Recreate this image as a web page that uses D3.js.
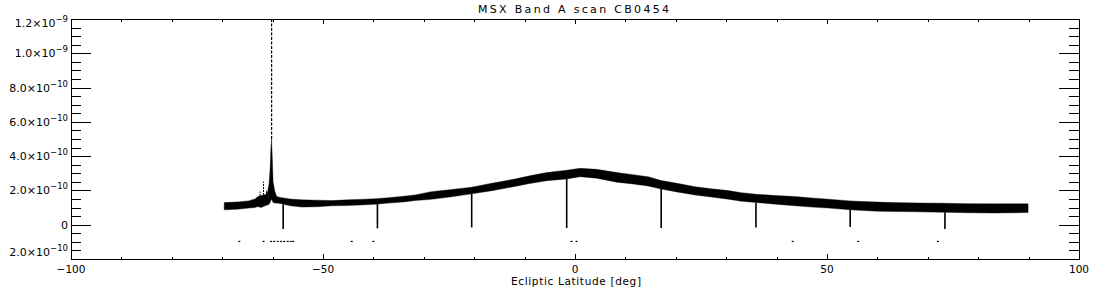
<!DOCTYPE html>
<html><head><meta charset="utf-8">
<script src="https://cdn.jsdelivr.net/npm/d3@7"></script>
<style>
html,body{margin:0;padding:0;background:#fff;}
svg{display:block;}
text{font-family:"DejaVu Sans",sans-serif;fill:#000;}
</style></head>
<body>
<svg id="chart" width="1100" height="300"></svg>
<script>
// ---- data (flux in units of 1e-10) ----
const UNIT = 1e-10;
const title = "MSX Band A scan CB0454";
const xTitle = "Ecliptic Latitude [deg]";
const xMajorTicks = [-100, -50, 0, 50, 100];
const xTickLabels = ["\u2212100", "\u221250", "0", "50", "100"];
const yMajorTicks = [-2, 0, 2, 4, 6, 8, 10, 12];
const yTickMantissa = ["2.0\u00d710", "0", "2.0\u00d710", "4.0\u00d710", "6.0\u00d710", "8.0\u00d710", "1.0\u00d710", "1.2\u00d710"];
const yTickExponent = ["\u221210", "", "\u221210", "\u221210", "\u221210", "\u221210", "\u22129", "\u22129"];

// band envelope
const bandLat = [-69.6,-67,-64.8,-63.5,-62.9,-62.3,-61.5,-61,-60.7,-60.5,-60.35,-60.2,-60.05,-59.9,-59.6,-59.2,-58.2,-56.5,-54.2,-51,-48.3,-45,-41.7,-39.5,-37,-34,-31.7,-28.5,-24.5,-20.5,-16.5,-12.2,-9,-5.6,-1.65,1.0,4.3,8.3,11.5,14.5,17.1,20.5,23.8,27,30.4,33,35.9,39.8,43.7,47,50.3,54.6,57.2,60,63.2,68,73.4,78,83,89.9];
const bandLo  = [0.87,0.90,0.97,1.00,1.06,1.00,1.10,1.15,1.20,1.30,1.40,1.50,1.40,1.30,1.26,1.26,1.22,1.10,1.03,1.05,1.10,1.12,1.16,1.20,1.26,1.33,1.41,1.48,1.63,1.80,1.98,2.22,2.40,2.57,2.67,2.80,2.71,2.48,2.38,2.26,2.08,1.90,1.74,1.62,1.49,1.37,1.30,1.20,1.10,1.03,0.97,0.87,0.83,0.79,0.77,0.75,0.72,0.70,0.68,0.71];
const bandHi  = [1.29,1.33,1.39,1.50,1.64,1.70,1.75,1.90,2.40,3.20,4.40,5.00,3.80,2.50,2.00,1.64,1.58,1.50,1.45,1.43,1.41,1.45,1.49,1.52,1.58,1.66,1.74,1.93,2.05,2.19,2.42,2.65,2.85,3.04,3.18,3.29,3.23,3.04,2.92,2.80,2.58,2.40,2.22,2.10,1.99,1.87,1.78,1.70,1.64,1.56,1.49,1.39,1.35,1.32,1.29,1.27,1.25,1.23,1.22,1.22];

// sparse top of the bright source
const spikeLat = -60.2, spikeBase = 5.0, spikeTop = 12.0;
// small spurs before the source
const spurLat = [-62.5, -61.8, -61.2];
const spurTop = [1.93, 2.51, 2.03];
// narrow dropouts
const dipLat = [-57.9, -39.2, -20.5, -1.65, 17.1, 35.9, 54.6, 73.4];
const dipMin = [-0.25, -0.21, -0.16, -0.19, -0.19, -0.16, -0.13, -0.25];
// isolated low points
const dotLat = [-66.6, -61.8, -60.3, -59.7, -59.0, -58.3, -57.7, -57.0, -56.4, -55.9, -44.3, -40.0, -0.7, 0.3, 43.2, 56.2, 72.0];
const dotVal = [-0.97,-0.97,-0.97,-0.97,-0.97,-0.97,-0.97,-0.97,-0.97,-0.97,-0.97,-0.97,-0.97,-0.97,-0.97,-0.97,-0.97];

// ---- drawing ----
const svg = d3.select("#chart");
const L = 71, R = 1079, T = 19, B = 259;
const x = d3.scaleLinear().domain([-100, 100]).range([L, R]);
const y = d3.scaleLinear().domain([-2 * UNIT, 12 * UNIT]).range([B, T]);

const band = bandLat.map((d, i) => ({lat: d, lo: bandLo[i] * UNIT, hi: bandHi[i] * UNIT}));
function interp(arr, lat) {
  for (let i = 0; i < bandLat.length - 1; i++) {
    if (lat >= bandLat[i] && lat <= bandLat[i + 1]) {
      const t = (lat - bandLat[i]) / (bandLat[i + 1] - bandLat[i]);
      return arr[i] + t * (arr[i + 1] - arr[i]);
    }
  }
  return arr[0];
}

const g = svg.append("g");
g.append("path")
  .datum(band)
  .attr("d", d3.area().x(d => x(d.lat)).y0(d => y(d.lo)).y1(d => y(d.hi)))
  .attr("fill", "#000").attr("stroke", "#000").attr("stroke-width", 0.4);

// spike sparse top
g.append("line")
  .attr("x1", x(spikeLat)).attr("x2", x(spikeLat))
  .attr("y1", y(spikeBase * UNIT)).attr("y2", y(spikeTop * UNIT))
  .attr("stroke", "#000").attr("stroke-width", 1.2).attr("stroke-dasharray", "3,1.5");

// spurs
g.selectAll(".spur").data(spurLat).join("line")
  .attr("x1", d => x(d)).attr("x2", d => x(d))
  .attr("y1", d => y(interp(bandHi, d) * UNIT))
  .attr("y2", (d, i) => y(spurTop[i] * UNIT))
  .attr("stroke", "#000").attr("stroke-width", 1).attr("stroke-dasharray", "2,1");

// dips
g.selectAll(".dip").data(dipLat).join("line")
  .attr("x1", d => x(d)).attr("x2", d => x(d))
  .attr("y1", d => y(interp(bandLo, d) * UNIT))
  .attr("y2", (d, i) => y(dipMin[i] * UNIT))
  .attr("stroke", "#000").attr("stroke-width", 1.6);

// dots
g.selectAll(".dot").data(dotLat).join("rect")
  .attr("x", d => x(d) - 1).attr("y", (d, i) => y(dotVal[i] * UNIT) - 0.5)
  .attr("width", 2).attr("height", 1.2).attr("fill", "#000");

// ---- axes ----
const ax = svg.append("g").attr("shape-rendering", "crispEdges");
const xMinor = d3.range(-100, 101, 10);
const yMinor = d3.range(-2, 12.01, 0.5);
function strip(sel) { sel.select(".domain").remove(); sel.selectAll("line").attr("stroke", "#000"); }

ax.append("g").attr("transform", `translate(0,${B})`)
  .call(d3.axisBottom(x).tickValues(xMinor).tickSize(-2.5).tickFormat("")).call(strip);
ax.append("g").attr("transform", `translate(0,${B})`)
  .call(d3.axisBottom(x).tickValues(xMajorTicks).tickSize(-5).tickFormat("")).call(strip);
ax.append("g").attr("transform", `translate(0,${T})`)
  .call(d3.axisTop(x).tickValues(xMinor).tickSize(-2.5).tickFormat("")).call(strip);
ax.append("g").attr("transform", `translate(0,${T})`)
  .call(d3.axisTop(x).tickValues(xMajorTicks).tickSize(-5).tickFormat("")).call(strip);

ax.append("g").attr("transform", `translate(${L},0)`)
  .call(d3.axisLeft(y).tickValues(yMinor.map(v => v * UNIT)).tickSize(-10).tickFormat("")).call(strip);
ax.append("g").attr("transform", `translate(${L},0)`)
  .call(d3.axisLeft(y).tickValues(yMajorTicks.map(v => v * UNIT)).tickSize(-20).tickFormat("")).call(strip);
ax.append("g").attr("transform", `translate(${R},0)`)
  .call(d3.axisRight(y).tickValues(yMinor.map(v => v * UNIT)).tickSize(-10).tickFormat("")).call(strip);
ax.append("g").attr("transform", `translate(${R},0)`)
  .call(d3.axisRight(y).tickValues(yMajorTicks.map(v => v * UNIT)).tickSize(-20).tickFormat("")).call(strip);

ax.append("rect").attr("x", L).attr("y", T).attr("width", R - L).attr("height", B - T)
  .attr("fill", "none").attr("stroke", "#000").attr("stroke-width", 1);

// x tick labels
svg.selectAll(".xl").data(xMajorTicks).join("text")
  .attr("x", d => x(d)).attr("y", 273)
  .attr("text-anchor", "middle").attr("font-size", 10.5)
  .text((d, i) => xTickLabels[i]);

// y tick labels
const yl = svg.selectAll(".yl").data(yMajorTicks).join("text")
  .attr("x", 68)
  .attr("y", (d, i) => {
    let off = 4;
    if (i === 0) off = -3;
    if (i === yMajorTicks.length - 1) off = 8;
    return y(d * UNIT) + off;
  })
  .attr("text-anchor", "end").attr("font-size", 11);
yl.append("tspan").text((d, i) => yTickMantissa[i]);
yl.append("tspan").attr("dy", -5).attr("font-size", 8.5).text((d, i) => yTickExponent[i]);

// titles
svg.append("text").attr("x", 573.5).attr("y", 13).attr("text-anchor", "middle")
  .attr("font-size", 11).attr("textLength", 191).attr("lengthAdjust", "spacing").text(title);
svg.append("text").attr("x", 576).attr("y", 285).attr("text-anchor", "middle")
  .attr("font-size", 10.5).attr("textLength", 130).attr("lengthAdjust", "spacing").text(xTitle);
</script>
</body></html>
